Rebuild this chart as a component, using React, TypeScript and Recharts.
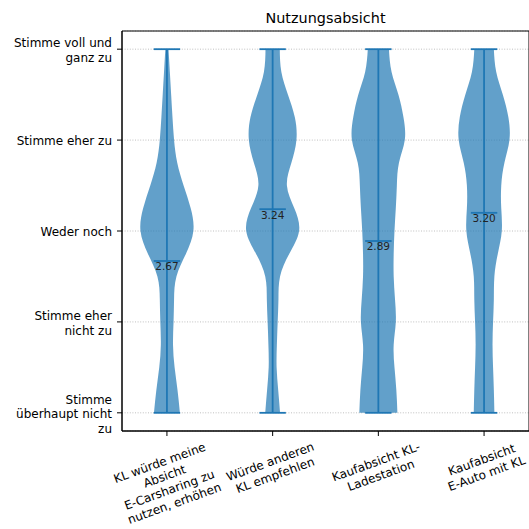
import {
  ComposedChart,
  Area,
  XAxis,
  YAxis,
  CartesianGrid,
  ReferenceLine,
  ReferenceArea,
} from "recharts";

// survey items (x axis), one violin each
const categories = [
  "KL würde meine\nAbsicht\nE-Carsharing zu\nnutzen, erhöhen",
  "Würde anderen\nKL empfehlen",
  "Kaufabsicht KL-\nLadestation",
  "Kaufabsicht\nE-Auto mit KL",
];

// Likert scale 1..5
const scaleLabels = [
  "Stimme\nüberhaupt nicht\nzu",
  "Stimme eher\nnicht zu",
  "Weder noch",
  "Stimme eher zu",
  "Stimme voll und\nganz zu",
];

// answer levels at which the density is sampled
const levels = [1, 1.25, 1.5, 1.75, 2, 2.25, 2.5, 2.75, 3, 3.25, 3.5, 3.75, 4, 4.25, 4.5, 4.75, 5];

// relative density (1 = widest point of that violin)
const densityCarsharing = [0.49, 0.4, 0.29, 0.23, 0.25, 0.27, 0.36, 0.72, 1.0, 0.9, 0.63, 0.39, 0.27, 0.21, 0.16, 0.11, 0.06];
const densityEmpfehlen = [0.28, 0.21, 0.15, 0.16, 0.19, 0.22, 0.28, 0.63, 1.0, 0.82, 0.54, 0.71, 0.9, 0.84, 0.58, 0.33, 0.27];
const densityLadestation = [0.72, 0.68, 0.61, 0.58, 0.66, 0.63, 0.58, 0.58, 0.61, 0.66, 0.7, 0.78, 1.0, 0.95, 0.76, 0.5, 0.4];
const densityEAuto = [0.39, 0.37, 0.34, 0.32, 0.34, 0.37, 0.39, 0.52, 0.67, 0.65, 0.65, 0.77, 0.96, 0.92, 0.71, 0.46, 0.37];

const means = [2.67, 3.24, 2.89, 3.2];
const mins = [1, 1, 1, 1];
const maxs = [5, 5, 5, 5];

const densities = [densityCarsharing, densityEmpfehlen, densityLadestation, densityEAuto];

const xDomain: [number, number] = [0.575, 4.425];
const yDomain: [number, number] = [0.8, 5.2];
const halfWidth = 0.25; // violin width 0.5
const capHalf = 0.125;

const BLUE = "#1f77b4";
const FONT = "DejaVu Sans";

const rows = levels.map((y, i) => {
  const row: Record<string, number | number[]> = { y };
  densities.forEach((d, k) => {
    const c = k + 1;
    row[`v${c}`] = [c - halfWidth * d[i], c + halfWidth * d[i]];
  });
  return row;
});

let ctx: CanvasRenderingContext2D | null = null;
function textWidth(s: string) {
  if (!ctx) ctx = document.createElement("canvas").getContext("2d");
  if (!ctx) return s.length * 7;
  ctx.font = `12px "${FONT}"`;
  return ctx.measureText(s).width;
}

const LINE_H = 14.4;

function ScaleTick(props: any) {
  const { x, y, payload } = props;
  const lines = scaleLabels[Math.round(payload.value) - 1].split("\n");
  return (
    <text x={x} y={y} textAnchor="end" fontSize={12} fontFamily={FONT} fill="#000">
      {lines.map((l, i) => (
        <tspan key={i} x={x} y={y + (i - (lines.length - 1) / 2) * LINE_H} dy="0.45em">
          {l}
        </tspan>
      ))}
    </text>
  );
}

// rotated, centred multi-line label hanging below the tick
function CategoryTick(props: any) {
  const { x, y, payload } = props;
  const lines = categories[Math.round(payload.value) - 1].split("\n");
  const w = Math.max(...lines.map(textWidth));
  const h = lines.length * LINE_H;
  const a = (20 * Math.PI) / 180;
  const rotH = w * Math.sin(a) + h * Math.cos(a);
  const cy = y + 3 + rotH / 2;
  return (
    <g transform={`translate(${x},${cy}) rotate(-20)`}>
      <text textAnchor="middle" fontSize={12} fontFamily={FONT} fill="#000">
        {lines.map((l, i) => (
          <tspan key={i} x={0} y={(i - (lines.length - 1) / 2) * LINE_H} dy="0.36em">
            {l}
          </tspan>
        ))}
      </text>
    </g>
  );
}

export default function App() {
  return (
    <div
      style={{
        position: "absolute",
        left: 0,
        top: 0,
        width: 529,
        height: 529,
        background: "#fff",
        fontFamily: FONT,
      }}
    >
      <div
        style={{
          position: "absolute",
          left: 122,
          width: 407,
          top: 11,
          textAlign: "center",
          fontSize: 14.4,
          lineHeight: 1,
          color: "#000",
        }}
      >
        Nutzungsabsicht
      </div>
      <ComposedChart
        width={529}
        height={529}
        data={rows}
        layout="vertical"
        margin={{ top: 31, right: 0, bottom: 0, left: 0 }}
      >
        <CartesianGrid
          horizontal
          vertical={false}
          stroke="#b0b0b0"
          strokeDasharray="1 1.6"
          strokeWidth={0.8}
        />
        <XAxis
          type="number"
          domain={xDomain}
          ticks={[1, 2, 3, 4]}
          interval={0}
          allowDataOverflow
          height={98}
          tickSize={5}
          tickMargin={0}
          tick={<CategoryTick />}
          tickLine={{ stroke: "#000" }}
          axisLine={{ stroke: "#000" }}
        />
        <YAxis
          type="number"
          dataKey="y"
          domain={yDomain}
          ticks={[1, 2, 3, 4, 5]}
          interval={0}
          reversed
          allowDataOverflow
          width={122}
          tickSize={5}
          tickMargin={5}
          tick={<ScaleTick />}
          tickLine={{ stroke: "#000" }}
          axisLine={{ stroke: "#000" }}
        />
        {densities.map((_, k) => (
          <Area
            key={k}
            dataKey={`v${k + 1}`}
            type="natural"
            fill={BLUE}
            fillOpacity={0.7}
            stroke="none"
            dot={false}
            activeDot={false}
            isAnimationActive={false}
          />
        ))}
        {means.map((m, k) => {
          const c = k + 1;
          return [
            <ReferenceLine
              key={`bar${k}`}
              segment={[{ x: c, y: mins[k] }, { x: c, y: maxs[k] }]}
              stroke={BLUE}
              strokeWidth={1.8}
            />,
            <ReferenceLine
              key={`min${k}`}
              segment={[{ x: c - capHalf, y: mins[k] }, { x: c + capHalf, y: mins[k] }]}
              stroke={BLUE}
              strokeWidth={1.8}
            />,
            <ReferenceLine
              key={`max${k}`}
              segment={[{ x: c - capHalf, y: maxs[k] }, { x: c + capHalf, y: maxs[k] }]}
              stroke={BLUE}
              strokeWidth={1.8}
            />,
            <ReferenceLine
              key={`mean${k}`}
              segment={[{ x: c - capHalf, y: m }, { x: c + capHalf, y: m }]}
              stroke={BLUE}
              strokeWidth={1.8}
              label={{
                value: m.toFixed(2),
                position: "bottom",
                offset: 2,
                fontSize: 10.5,
                fontFamily: FONT,
                fill: "#222",
              }}
            />,
          ];
        })}
        <ReferenceArea
          x1={xDomain[0]}
          x2={xDomain[1]}
          y1={yDomain[0]}
          y2={yDomain[1]}
          fill="none"
          stroke="#000"
          strokeWidth={1}
        />
      </ComposedChart>
    </div>
  );
}
